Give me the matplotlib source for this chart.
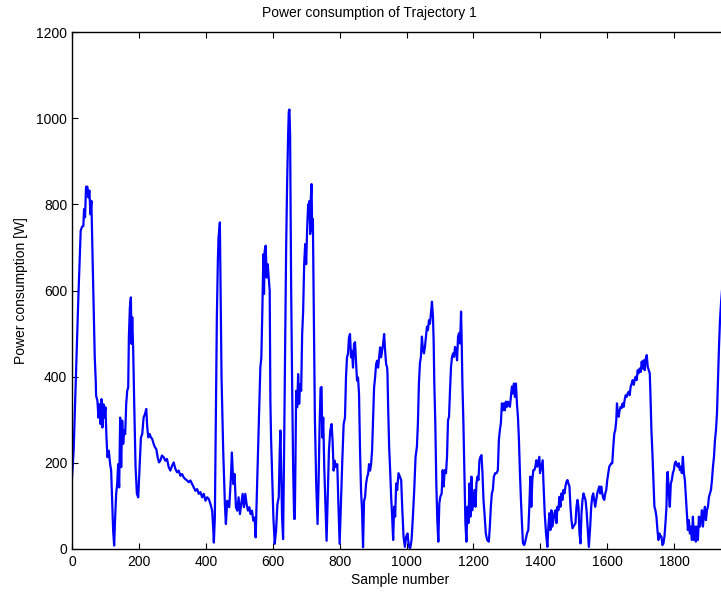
import matplotlib
matplotlib.use("Agg")
import matplotlib.pyplot as plt

plt.rcParams['font.family'] = ['Liberation Sans', 'DejaVu Sans']

# pontos (amostra, potencia em W)
amostra = [
    0, 5, 14, 19, 26, 30, 34, 36, 39, 42, 46, 49, 52, 55, 58, 60,
    64, 68, 71, 72, 76, 79, 82, 85, 88, 91, 94, 97, 100, 103, 106, 110,
    114, 117, 120, 123, 126, 129, 132, 135, 138, 141, 144, 147, 150, 153, 156, 159,
    162, 165, 168, 170, 173, 176, 178, 180, 183, 186, 190, 194, 198, 202, 206, 210,
    214, 218, 222, 225, 228, 232, 236, 240, 244, 248, 252, 256, 260, 264, 269, 274,
    279, 284, 289, 294, 299, 304, 309, 314, 319, 324, 329, 334, 339, 344, 349, 354,
    359, 364, 369, 374, 379, 384, 389, 394, 399, 404, 409, 414, 419, 422, 424, 427,
    430, 433, 436, 438, 441,
    442, 447, 452, 457, 460, 464, 470, 475, 478, 482, 486, 490, 494, 498, 502, 506,
    510, 514, 518, 522, 526, 530, 534, 538, 542, 546, 549, 552, 555, 559, 563, 566,
    569, 572, 574, 576, 579, 582, 585, 588, 591, 593, 595, 598, 602, 606, 610, 614,
    618, 621, 623, 625, 628, 631, 634, 637, 640, 643, 646, 648, 650, 652, 655, 658,
    661, 664, 666, 668, 670, 673, 676, 679, 682, 685, 688, 691, 694, 697, 700, 703,
    706, 708, 710, 712, 714, 716, 718, 720, 723, 726, 730, 734, 737, 740, 743, 746,
    748, 751, 754, 758, 761, 764, 768, 772, 776, 779, 782, 785, 789, 793, 796, 800,
    804, 808, 812, 816, 819, 822, 825, 828, 831, 834, 837, 840, 843, 846, 849, 852,
    855, 858, 861, 864, 867, 870, 873, 876, 879, 882, 885, 888, 891, 894, 897, 900,
    903, 906, 909, 912, 915, 918, 921, 924, 927, 930, 933, 936, 939, 942,
    943, 945, 948, 951, 954, 957, 960, 963, 966, 969, 972, 976, 980, 984, 987, 991,
    995, 999, 1003, 1007, 1011, 1015, 1019, 1023, 1027, 1031, 1034, 1037, 1040, 1043, 1046, 1049,
    1052, 1055, 1058, 1061, 1064, 1067, 1070, 1073, 1076, 1079, 1081, 1083, 1086, 1089, 1092, 1095,
    1098, 1101, 1105, 1108, 1111, 1114, 1118, 1121, 1124, 1127, 1130, 1133, 1136, 1139, 1142, 1145,
    1148, 1151, 1154, 1157, 1160, 1163, 1165, 1167, 1170, 1173, 1176, 1179, 1182, 1185, 1188, 1191,
    1194, 1197, 1200, 1203, 1206, 1209, 1212, 1215, 1218, 1221, 1224, 1227, 1230, 1233, 1237, 1241,
    1246, 1249, 1252, 1255, 1258, 1261, 1265, 1269, 1273, 1276, 1279, 1282, 1285, 1288, 1291, 1294,
    1297, 1300, 1303, 1306, 1309, 1312, 1315, 1318, 1321, 1324, 1327, 1330, 1333, 1336, 1339, 1342,
    1345, 1348, 1352, 1356, 1360, 1364, 1367, 1370, 1373, 1376, 1379, 1382, 1385, 1388, 1391, 1394,
    1397,
    1399, 1403, 1407, 1409, 1413, 1417, 1421, 1424, 1427, 1430, 1433, 1436, 1439, 1442, 1445, 1448,
    1451, 1454, 1457, 1460, 1463, 1466, 1469, 1472, 1475, 1478, 1481, 1484, 1487, 1490, 1493, 1496,
    1499, 1502, 1505, 1508, 1511, 1514, 1517, 1520, 1523, 1526, 1529, 1532, 1535, 1538, 1541, 1545,
    1549, 1552, 1555, 1558, 1561, 1564, 1567, 1570, 1573, 1576, 1579, 1582, 1585, 1588, 1591, 1594,
    1597, 1600, 1603, 1606, 1609, 1612, 1615, 1618, 1621, 1624, 1627, 1629, 1631, 1634, 1637, 1640,
    1643, 1646, 1649, 1652, 1655, 1658, 1661, 1664, 1667, 1670, 1673, 1676, 1679, 1682, 1685, 1688,
    1691, 1694, 1697, 1700, 1703, 1706, 1709, 1712, 1715, 1718, 1721, 1724, 1727, 1729, 1732, 1735,
    1738, 1741, 1744, 1747, 1750, 1753, 1756, 1759, 1762, 1765, 1768, 1771, 1774, 1777, 1779, 1781,
    1784, 1787, 1790, 1793, 1796, 1799, 1802, 1805, 1808, 1811, 1814, 1817, 1820, 1823, 1826, 1829,
    1832, 1835, 1838, 1841, 1844, 1847, 1850, 1853, 1856, 1859, 1862, 1865, 1868, 1871, 1874, 1877,
    1880, 1883, 1886, 1889, 1892, 1895, 1898, 1901, 1904, 1907, 1910, 1913, 1916, 1919, 1922, 1925,
    1928, 1931, 1934, 1937, 1940, 1943,
]
potencia = [
    165, 230, 460, 584, 739, 748, 750, 789, 770, 841, 841, 816, 832, 777, 808, 731,
    592, 445, 390, 356, 344, 305, 336, 290, 348, 282, 336, 305, 329, 259, 213, 228,
    197, 182, 112, 43, 8, 73, 128, 151, 197, 143, 305, 190, 298, 244, 275, 267,
    336, 367, 375, 491, 561, 584, 476, 538, 460, 336, 190, 128, 120, 190, 259, 267,
    305, 313, 325, 282, 259, 267, 259, 255, 244, 236, 232, 213, 201, 205, 217, 213,
    205, 209, 190, 182, 193, 201, 186, 178, 182, 170, 174, 166, 162, 159, 155, 159,
    151, 143, 135, 139, 128, 132, 120, 128, 112, 120, 116, 104, 89, 50, 15, 73,
    305, 538, 669, 723, 747,
    758, 398, 228, 104, 58, 112, 97, 166, 224, 151, 174, 97, 89, 120, 81, 104,
    128, 97, 128, 104, 89, 97, 81, 89, 66, 73, 27, 112, 197, 305, 421, 445,
    553, 684, 592, 692, 704, 630, 661, 630, 599, 344, 259, 182, 73, 12, 43, 104,
    120, 228, 275, 190, 73, 23, 228, 460, 692, 847, 960, 1015, 1020, 960, 615, 383,
    190, 70, 70, 205, 367, 329, 406, 337, 383, 367, 499, 553, 661, 708, 661, 746,
    800, 770, 808, 731, 816, 847, 739, 766, 538, 305, 151, 58, 151, 282, 374, 376,
    259, 305, 190, 89, 19, 112, 228, 275, 290, 251, 182, 205, 190, 197, 112, 12,
    112, 205, 290, 305, 398, 445, 453, 491, 499, 445, 460, 421, 476, 480, 437, 391,
    398, 360, 228, 135, 89, 4, 112, 120, 151, 166, 174, 197, 182, 197, 228, 305,
    375, 398, 429, 437, 421, 445, 468, 445, 460, 476, 499, 460, 429, 421,
    408, 330, 237, 183, 121, 75, 21, 98, 75, 152, 137, 176, 168, 160, 98, 29,
    5, 29, 36, 5, 2, 21, 75, 137, 214, 237, 292, 384, 431, 446, 493, 462,
    454, 469, 493, 516, 508, 531, 523, 547, 574, 539, 485, 384, 292, 152, 67, 17,
    106, 121, 129, 183, 145, 183, 176, 214, 299, 307, 369, 423, 446, 454, 446, 469,
    462, 438, 493, 501, 477, 551, 477, 384, 292, 176, 60, 17, 98, 60, 152, 75,
    168, 90, 114, 137, 98, 152, 168, 160, 206, 214, 218, 176, 114, 83, 36, 21,
    17, 52, 98, 129, 137, 168, 176, 176, 183, 253, 276, 292, 338, 322, 338, 322,
    342, 330, 342, 334, 330, 353, 377, 361, 384, 353, 384, 338, 307, 253, 176, 114,
    60, 13, 9, 21, 36, 44, 98, 168, 98, 160, 183, 183, 191, 206, 191, 203,
    214,
    176, 191, 206, 160, 83, 36, 5, 52, 83, 44, 90, 52, 67, 83, 90, 60,
    98, 90, 121, 98, 129, 114, 137, 129, 145, 156, 160, 152, 145, 98, 67, 48,
    52, 56, 60, 98, 114, 98, 36, 13, 83, 114, 129, 121, 114, 90, 52, 5,
    52, 98, 121, 129, 114, 98, 114, 129, 137, 145, 129, 145, 129, 118, 114, 129,
    137, 160, 176, 191, 195, 199, 199, 237, 268, 276, 299, 338, 319, 307, 322, 330,
    327, 338, 330, 346, 357, 353, 361, 365, 357, 377, 384, 392, 381, 392, 400, 392,
    415, 408, 419, 411, 435, 419, 438, 415, 442, 450, 423, 415, 408, 361, 276, 222,
    160, 98, 90, 75, 44, 21, 36, 29, 29, 9, 13, 29, 60, 98, 176, 179,
    129, 98, 152, 160, 176, 183, 199, 203, 195, 191, 199, 183, 191, 176, 214, 176,
    160, 121, 83, 44, 67, 36, 52, 21, 75, 21, 52, 17, 52, 21, 75, 52,
    67, 90, 52, 83, 98, 67, 90, 98, 121, 129, 137, 160, 191, 214, 253, 276,
    315, 392, 469, 531, 570, 600,
]

fig = plt.figure(figsize=(7.21, 5.92), dpi=100)
ax = fig.add_axes([72 / 721, 43 / 592, 649 / 721, 517 / 592])

ax.plot(amostra, potencia, color="#0000ff", linewidth=1.6)

ax.set_xlim(0, 1940)
ax.set_ylim(0, 1200)
ax.set_xticks(range(0, 1801, 200))
ax.set_yticks(range(0, 1201, 200))

# ticks para dentro, em baixo/cima/esquerda (lado direito fica fora do recorte)
ax.tick_params(direction="in", length=4, width=0.8, labelsize=10,
               top=True, right=False, colors="black")
ax.tick_params(axis="x", pad=4)
for lado in ["left", "bottom", "top"]:
    ax.spines[lado].set_linewidth(1.0)
ax.spines["right"].set_visible(False)

# titulo e rotulos (posicoes como no original do MATLAB)
fig.text(369 / 721, 1 - 17 / 592, "Power consumption of Trajectory 1",
         ha="center", va="baseline", fontsize=10)
ax.set_xlabel("Sample number", fontsize=10)
ax.xaxis.set_label_coords((400 - 72) / 649, -0.046)
ax.set_ylabel("Power consumption [W]", fontsize=10)
ax.yaxis.set_label_coords(-44 / 649, 0.5)

fig.savefig("out.png", dpi=100)
